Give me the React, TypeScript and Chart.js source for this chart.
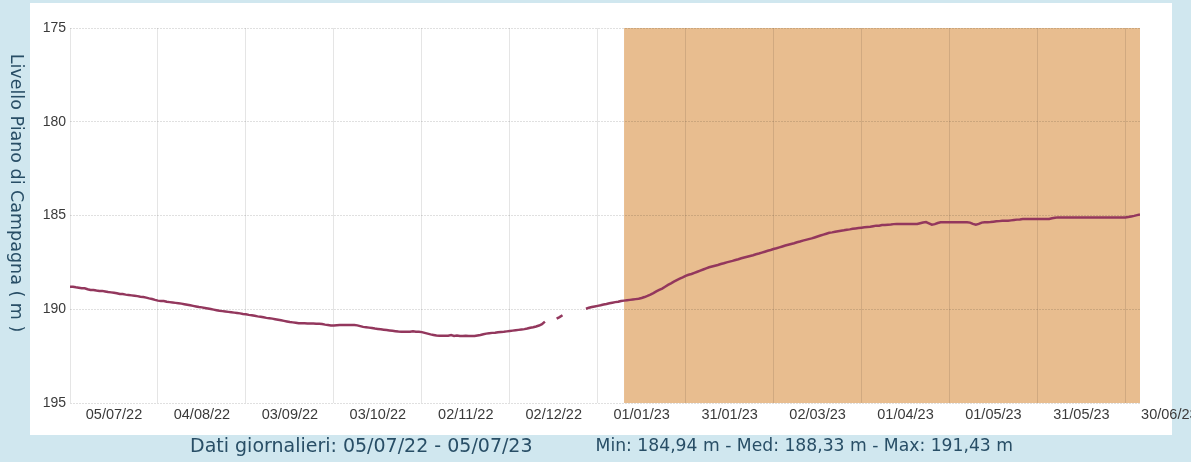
import React, { useEffect, useRef } from "react";
import { Chart, registerables } from "chart.js";

Chart.register(...registerables);

// Daily groundwater level (m below ground), day 0 = 05/07/22
const levels: (number | null)[] = [
  188.80, 188.80, 188.83, 188.85, 188.88, 188.88, 188.93, 188.97, 188.97, 189.00,
  189.02, 189.02, 189.05, 189.08, 189.10, 189.12, 189.15, 189.19, 189.19, 189.22,
  189.24, 189.26, 189.28, 189.30, 189.33, 189.35, 189.38, 189.42, 189.45, 189.50,
  189.54, 189.56, 189.56, 189.60, 189.62, 189.64, 189.66, 189.68, 189.70, 189.73,
  189.76, 189.79, 189.82, 189.85, 189.88, 189.90, 189.93, 189.96, 189.99, 190.02,
  190.05, 190.08, 190.10, 190.12, 190.14, 190.16, 190.18, 190.20, 190.22, 190.25,
  190.27, 190.30, 190.32, 190.35, 190.38, 190.40, 190.43, 190.46, 190.48, 190.50,
  190.53, 190.56, 190.59, 190.62, 190.65, 190.68, 190.70, 190.72, 190.75, 190.75,
  190.75, 190.76, 190.76, 190.76, 190.77, 190.77, 190.79, 190.82, 190.84, 190.86,
  190.86, 190.85, 190.84, 190.84, 190.84, 190.84, 190.84, 190.84, 190.86, 190.90,
  190.94, 190.96, 190.98, 191.00, 191.03, 191.05, 191.07, 191.09, 191.11, 191.13,
  191.15, 191.17, 191.19, 191.20, 191.20, 191.20, 191.20, 191.18, 191.20, 191.20,
  191.22, 191.26, 191.30, 191.34, 191.37, 191.40, 191.41, 191.41, 191.41, 191.41,
  191.38, 191.43, 191.40, 191.43, 191.43, 191.41, 191.43, 191.43, 191.43, 191.40,
  191.37, 191.33, 191.30, 191.28, 191.26, 191.25, 191.23, 191.21, 191.20, 191.18,
  191.16, 191.14, 191.12, 191.10, 191.08, 191.06, 191.03, 190.99, 190.96, 190.92,
  190.87, 190.80, 190.66, null, null, null, 190.50, 190.42, 190.32, null,
  null, null, null, null, null, null, 189.97, 189.92, 189.88, 189.85,
  189.82, 189.79, 189.75, 189.72, 189.68, 189.65, 189.62, 189.60, 189.56, 189.54,
  189.52, 189.50, 189.48, 189.46, 189.44, 189.40, 189.35, 189.29, 189.22, 189.14,
  189.05, 188.97, 188.90, 188.80, 188.70, 188.62, 188.53, 188.45, 188.37, 188.30,
  188.22, 188.16, 188.12, 188.06, 188.00, 187.94, 187.88, 187.82, 187.76, 187.72,
  187.68, 187.64, 187.59, 187.55, 187.50, 187.46, 187.42, 187.37, 187.33, 187.28,
  187.24, 187.20, 187.16, 187.12, 187.07, 187.03, 186.98, 186.93, 186.88, 186.84,
  186.79, 186.75, 186.70, 186.65, 186.60, 186.56, 186.52, 186.48, 186.43, 186.39,
  186.34, 186.30, 186.26, 186.22, 186.17, 186.12, 186.07, 186.02, 185.97, 185.92,
  185.90, 185.87, 185.84, 185.81, 185.79, 185.76, 185.74, 185.71, 185.69, 185.67,
  185.65, 185.63, 185.61, 185.60, 185.57, 185.54, 185.54, 185.51, 185.51, 185.49,
  185.48, 185.46, 185.45, 185.45, 185.45, 185.45, 185.45, 185.45, 185.45, 185.45,
  185.41, 185.37, 185.35, 185.42, 185.49, 185.46, 185.40, 185.36, 185.36, 185.36,
  185.36, 185.36, 185.36, 185.36, 185.36, 185.36, 185.36, 185.38, 185.45, 185.49,
  185.45, 185.38, 185.36, 185.36, 185.35, 185.33, 185.31, 185.30, 185.28, 185.28,
  185.28, 185.26, 185.24, 185.22, 185.21, 185.19, 185.19, 185.19, 185.19, 185.19,
  185.19, 185.19, 185.19, 185.19, 185.19, 185.15, 185.12, 185.10, 185.10, 185.10,
  185.10, 185.10, 185.10, 185.10, 185.10, 185.10, 185.10, 185.10, 185.10, 185.10,
  185.10, 185.10, 185.10, 185.10, 185.10, 185.10, 185.10, 185.10, 185.10, 185.10,
  185.10, 185.08, 185.05, 185.02, 184.98, 184.94,
];

const tickDays = [0, 30, 60, 90, 120, 150, 180, 210, 240, 270, 300, 330, 360];
const tickLabels = [
  "05/07/22", "04/08/22", "03/09/22", "03/10/22", "02/11/22", "02/12/22",
  "01/01/23", "31/01/23", "02/03/23", "01/04/23", "01/05/23", "31/05/23", "30/06/23",
];
const yTickValues = [175, 180, 185, 190, 195];
const shadeRange = [189, 365]; // 10/01/23 - 05/07/23
const yTitle = "Livello Piano di Campagna ( m )";
const footerPeriod = "Dati giornalieri: 05/07/22 - 05/07/23";
const footerStats = "Min: 184,94 m - Med: 188,33 m - Max: 191,43 m";

const W = 1191;
const H = 462;

export default function App() {
  const ref = useRef<HTMLCanvasElement | null>(null);

  useEffect(() => {
    if (!ref.current) return;

    const framePlugin = {
      id: "frame",
      beforeDraw(chart: any) {
        const { ctx, chartArea, scales } = chart;
        ctx.save();
        ctx.fillStyle = "#d0e7ef";
        ctx.fillRect(0, 0, W, H);
        ctx.fillStyle = "#ffffff";
        ctx.fillRect(30, 3, 1142, 432);
        const x0 = scales.x.getPixelForValue(shadeRange[0]);
        const x1 = scales.x.getPixelForValue(shadeRange[1]);
        ctx.fillStyle = "#e8bd8f";
        ctx.fillRect(x0, chartArea.top, x1 - x0, chartArea.bottom - chartArea.top);
        ctx.restore();
      },
      afterDraw(chart: any) {
        const { ctx } = chart;
        ctx.save();
        ctx.fillStyle = "#284e66";
        ctx.textBaseline = "middle";
        // footer
        ctx.font = "19px 'DejaVu Sans'";
        ctx.textAlign = "left";
        ctx.fillText(footerPeriod, 190, 447);
        ctx.font = "17.2px 'DejaVu Sans'";
        ctx.textAlign = "right";
        ctx.fillText(footerStats, 1013, 447);
        // y axis title, reading top to bottom
        ctx.font = "17.5px 'DejaVu Sans'";
        ctx.textAlign = "center";
        ctx.translate(16, 193);
        ctx.rotate(Math.PI / 2);
        ctx.fillText(yTitle, 0, 0);
        ctx.restore();
      },
    };

    const chart = new Chart(ref.current, {
      type: "line",
      data: {
        datasets: [
          {
            data: levels.map((v, i) => ({ x: i, y: v })) as any,
            borderColor: "#93375d",
            borderWidth: 2.5,
            pointRadius: 0,
            spanGaps: false,
            tension: 0,
            fill: false,
          },
        ],
      },
      options: {
        responsive: false,
        animation: false,
        layout: { padding: { left: 0, top: 28, right: 51, bottom: 30.8 } },
        plugins: {
          legend: { display: false },
          tooltip: { enabled: false },
          title: { display: false },
        },
        scales: {
          x: {
            type: "linear",
            min: 0,
            max: levels.length - 1,
            afterBuildTicks: (scale: any) => {
              scale.ticks = tickDays.map((v) => ({ value: v }));
            },
            afterFit: (scale: any) => {
              scale.height = 462 - 30.8 - 403;
            },
            grid: { color: "rgba(0,0,0,0.1)", drawTicks: false, lineWidth: 1 },
            border: { display: false },
            ticks: {
              autoSkip: false,
              maxRotation: 0,
              padding: 3,
              labelOffset: 44,
              color: "#3a3a3a",
              font: { family: "'Liberation Sans'", size: 14.5 },
              callback: (_v: any, i: number) => tickLabels[i],
            },
          },
          y: {
            type: "linear",
            reverse: true,
            min: 175,
            max: 195,
            afterBuildTicks: (scale: any) => {
              scale.ticks = yTickValues.map((v) => ({ value: v }));
            },
            afterFit: (scale: any) => {
              scale.width = 70;
            },
            grid: {
              color: "rgba(0,0,0,0.12)",
              drawTicks: false,
              lineWidth: 1,
            },
            border: { display: false, dash: [2, 1] },
            ticks: {
              padding: 4,
              color: "#3a3a3a",
              font: { family: "'Liberation Sans'", size: 14 },
              callback: (v: any) => String(v),
            },
          },
        },
      },
      plugins: [framePlugin],
    });

    return () => chart.destroy();
  }, []);

  return (
    <div style={{ position: "fixed", left: 0, top: 0, width: W, height: H }}>
      <canvas ref={ref} width={W} height={H} style={{ display: "block" }} />
    </div>
  );
}
